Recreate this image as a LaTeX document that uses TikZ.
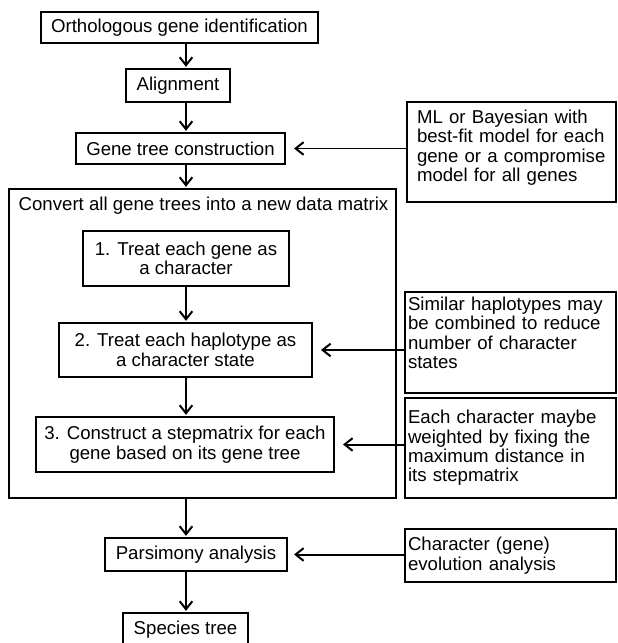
\documentclass[tikz,border=0pt]{standalone}
\usepackage{fontspec}
\setmainfont{Liberation Sans}
\usetikzlibrary{arrows.meta, positioning}

\begin{document}
\begin{tikzpicture}[->, >={Straight Barb[length=2.4mm,width=3.8mm]}, shorten >=1pt, line width=1.7pt]
    \tikzstyle{every node}=[font=\fontsize{15.9}{16.6}\selectfont]
    \tikzstyle{flow box}=[rectangle, draw=black, inner sep=0pt, align=center]
    \tikzstyle{side box}=[rectangle, draw=black, inner xsep=0.09cm, text width=6.15cm, minimum width=6.33cm, align=left]

	\clip (0,0) rectangle (18.51,-19.29);

	% main column
	\coordinate (col) at (5.58,0);
	\node[flow box, minimum width=8.31cm, minimum height=0.93cm] (ortho) at (5.385,-0.825) {Orthologous gene identification};
	\node[flow box, minimum width=3.12cm, minimum height=0.99cm] (align) at (5.34,-2.565) {Alignment};
	\node[flow box, minimum width=6.27cm, minimum height=0.93cm] (gt) at (5.415,-4.455) {Gene tree construction};

	\node[flow box, minimum width=11.61cm, minimum height=9.27cm] (convert) at (6.075,-10.305) {};
	\node[] (title) at (6.105,-6.18) {Convert all gene trees into a new data matrix};
	\node[flow box, minimum width=6.18cm, minimum height=1.65cm] (gene) at (5.58,-7.755) {1. Treat each gene as\\a character};
	\node[flow box, minimum width=7.59cm, minimum height=1.62cm] (hap) at (5.565,-10.5) {2. Treat each haplotype as\\a character state};
	\node[flow box, minimum width=8.94cm, minimum height=1.65cm] (stepm) at (5.55,-13.335) {3. Construct a stepmatrix for each\\gene based on its gene tree};

	\node[flow box, minimum width=5.46cm, minimum height=0.99cm] (pars) at (5.88,-16.635) {Parsimony analysis};
	\node[flow box, minimum width=3.75cm, minimum height=0.99cm] (species) at (5.565,-18.885) {Species tree};

	% notes on the right
	\node[side box, inner xsep=0.3cm, text width=5.67cm, minimum width=6.27cm, minimum height=3.0cm] (ml) at (15.345,-4.56) {ML or Bayesian with\\best-fit model for each\\gene or a compromise\\model for all genes\\[-0.2cm]~};
	\node[side box, minimum height=3.03cm] (similar) at (15.315,-10.275) {Similar haplotypes may\\be combined to reduce\\number of character\\states\\~};
	\node[side box, minimum height=3.0cm] (weight) at (15.315,-13.44) {Each character maybe\\weighted by fixing the\\maximum distance in\\its stepmatrix};
	\node[side box, minimum height=1.59cm] (evol) at (15.315,-16.665) {Character (gene)\\evolution analysis};

	\draw (ortho.south -| col) -- (align.north -| col);
	\draw (align.south -| col) -- (gt.north -| col);
	\draw (gt.south -| col) -- (convert.north -| col);
	\draw (gene.south -| col) -- (hap.north -| col);
	\draw (hap.south -| col) -- (stepm.north -| col);
	\draw (convert.south -| col) -- (pars.north -| col);
	\draw (pars.south -| col) -- (species.north -| col);

	\draw[shorten >=0.24cm] (ml.west |- gt.east) -- (gt.east);
	\draw[shorten >=0.24cm] (similar.west |- hap.east) -- (hap.east);
	\draw[shorten >=0.24cm] (weight.west |- stepm.east) -- (stepm.east);
	\draw[shorten >=0.18cm] (evol.west |- pars.east) -- (pars.east);

\end{tikzpicture}
\end{document}
